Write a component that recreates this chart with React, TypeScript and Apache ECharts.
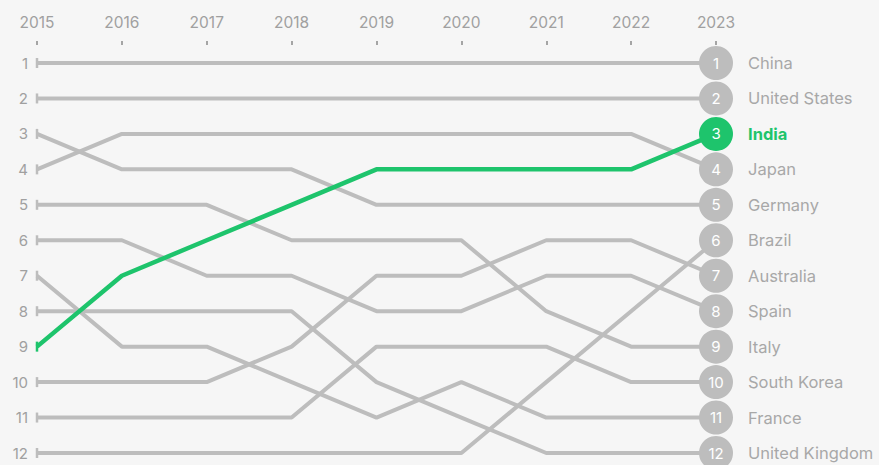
import React, { useEffect, useRef } from "react";
import * as echarts from "echarts";

const years = ["2015", "2016", "2017", "2018", "2019", "2020", "2021", "2022", "2023"];
const rankTicks = [1, 2, 3, 4, 5, 6, 7, 8, 9, 10, 11, 12];

const china = [1, 1, 1, 1, 1, 1, 1, 1, 1];
const unitedStates = [2, 2, 2, 2, 2, 2, 2, 2, 2];
const india = [9, 7, 6, 5, 4, 4, 4, 4, 3];
const japan = [4, 3, 3, 3, 3, 3, 3, 3, 4];
const germany = [3, 4, 4, 4, 5, 5, 5, 5, 5];
const brazil = [12, 12, 12, 12, 12, 12, 10, 8, 6];
const australia = [10, 10, 10, 9, 7, 7, 6, 6, 7];
const spain = [6, 6, 7, 7, 8, 8, 7, 7, 8];
const italy = [5, 5, 5, 6, 6, 6, 8, 9, 9];
const southKorea = [11, 11, 11, 11, 9, 9, 9, 10, 10];
const france = [7, 9, 9, 10, 11, 10, 11, 11, 11];
const unitedKingdom = [8, 8, 8, 8, 10, 11, 12, 12, 12];

const countries: { name: string; ranks: number[]; highlight?: boolean }[] = [
  { name: "China", ranks: china },
  { name: "United States", ranks: unitedStates },
  { name: "Japan", ranks: japan },
  { name: "Germany", ranks: germany },
  { name: "Brazil", ranks: brazil },
  { name: "Australia", ranks: australia },
  { name: "Spain", ranks: spain },
  { name: "Italy", ranks: italy },
  { name: "South Korea", ranks: southKorea },
  { name: "France", ranks: france },
  { name: "United Kingdom", ranks: unitedKingdom },
  { name: "India", ranks: india, highlight: true },
];

const GREY = "#bdbdbd";
const GREEN = "#1ec46c";
const TEXT = "#a0a0a0";
const FONT = "Inter, 'Noto Sans', sans-serif";

export default function App() {
  const ref = useRef<HTMLDivElement>(null);

  useEffect(() => {
    if (!ref.current) return;
    const chart = echarts.init(ref.current, null, { renderer: "svg" });
    const last = years.length - 1;

    const lineSeries = countries.map((c) => {
      const color = c.highlight ? GREEN : GREY;
      return {
        name: c.name,
        type: "line",
        z: c.highlight ? 5 : 2,
        showSymbol: true,
        silent: true,
        lineStyle: { color, width: c.highlight ? 4.5 : 4 },
        itemStyle: { color },
        emphasis: { disabled: true },
        data: c.ranks.map((r, i) => {
          if (i === 0) return { value: r, symbol: "rect", symbolSize: [2.5, 10] };
          if (i === last)
            return {
              value: r,
              symbol: "circle",
              symbolSize: 34,
              label: {
                show: true,
                position: "inside",
                formatter: String(r),
                color: "#ffffff",
                fontSize: 15,
                fontFamily: FONT,
              },
            };
          return { value: r, symbol: "none" };
        }),
      };
    });

    const final: Record<number, { name: string; hl: boolean }> = {};
    countries.forEach((c) => {
      final[c.ranks[last]] = { name: c.name, hl: !!c.highlight };
    });

    chart.setOption({
      animation: false,
      backgroundColor: "#f6f6f6",
      grid: { left: 37, right: 163, top: 63, bottom: 12 },
      xAxis: {
        type: "category",
        data: years,
        position: "top",
        boundaryGap: false,
        offset: 18,
        axisLine: { show: false },
        axisTick: { show: true, length: 4, alignWithLabel: true, lineStyle: { color: "#8a8a8a", width: 1.5 } },
        axisLabel: { color: TEXT, fontSize: 15.5, fontFamily: FONT, margin: 15 },
        splitLine: { show: false },
      },
      yAxis: [
        {
          type: "value",
          inverse: true,
          min: 1,
          max: 12,
          interval: 1,
          axisLine: { show: false },
          axisTick: { show: false },
          splitLine: { show: false },
          axisLabel: { color: TEXT, fontSize: 15, fontFamily: FONT, margin: 9 },
        },
        {
          type: "value",
          inverse: true,
          position: "right",
          min: 1,
          max: 12,
          interval: 1,
          axisLine: { show: false },
          axisTick: { show: false },
          splitLine: { show: false },
          axisLabel: {
            margin: 32,
            formatter: (v: number) => {
              const f = final[v];
              if (!f) return "";
              return f.hl ? `{g|${f.name}}` : `{n|${f.name}}`;
            },
            rich: {
              n: { color: "#a8a8a8", fontSize: 16.5, fontFamily: FONT },
              g: { color: GREEN, fontSize: 16.5, fontFamily: FONT, fontWeight: "bold" },
            },
          },
        },
      ],
      series: lineSeries,
    });

    return () => chart.dispose();
  }, []);

  return <div ref={ref} style={{ width: 879, height: 465, position: "absolute", left: 0, top: 0 }} />;
}
